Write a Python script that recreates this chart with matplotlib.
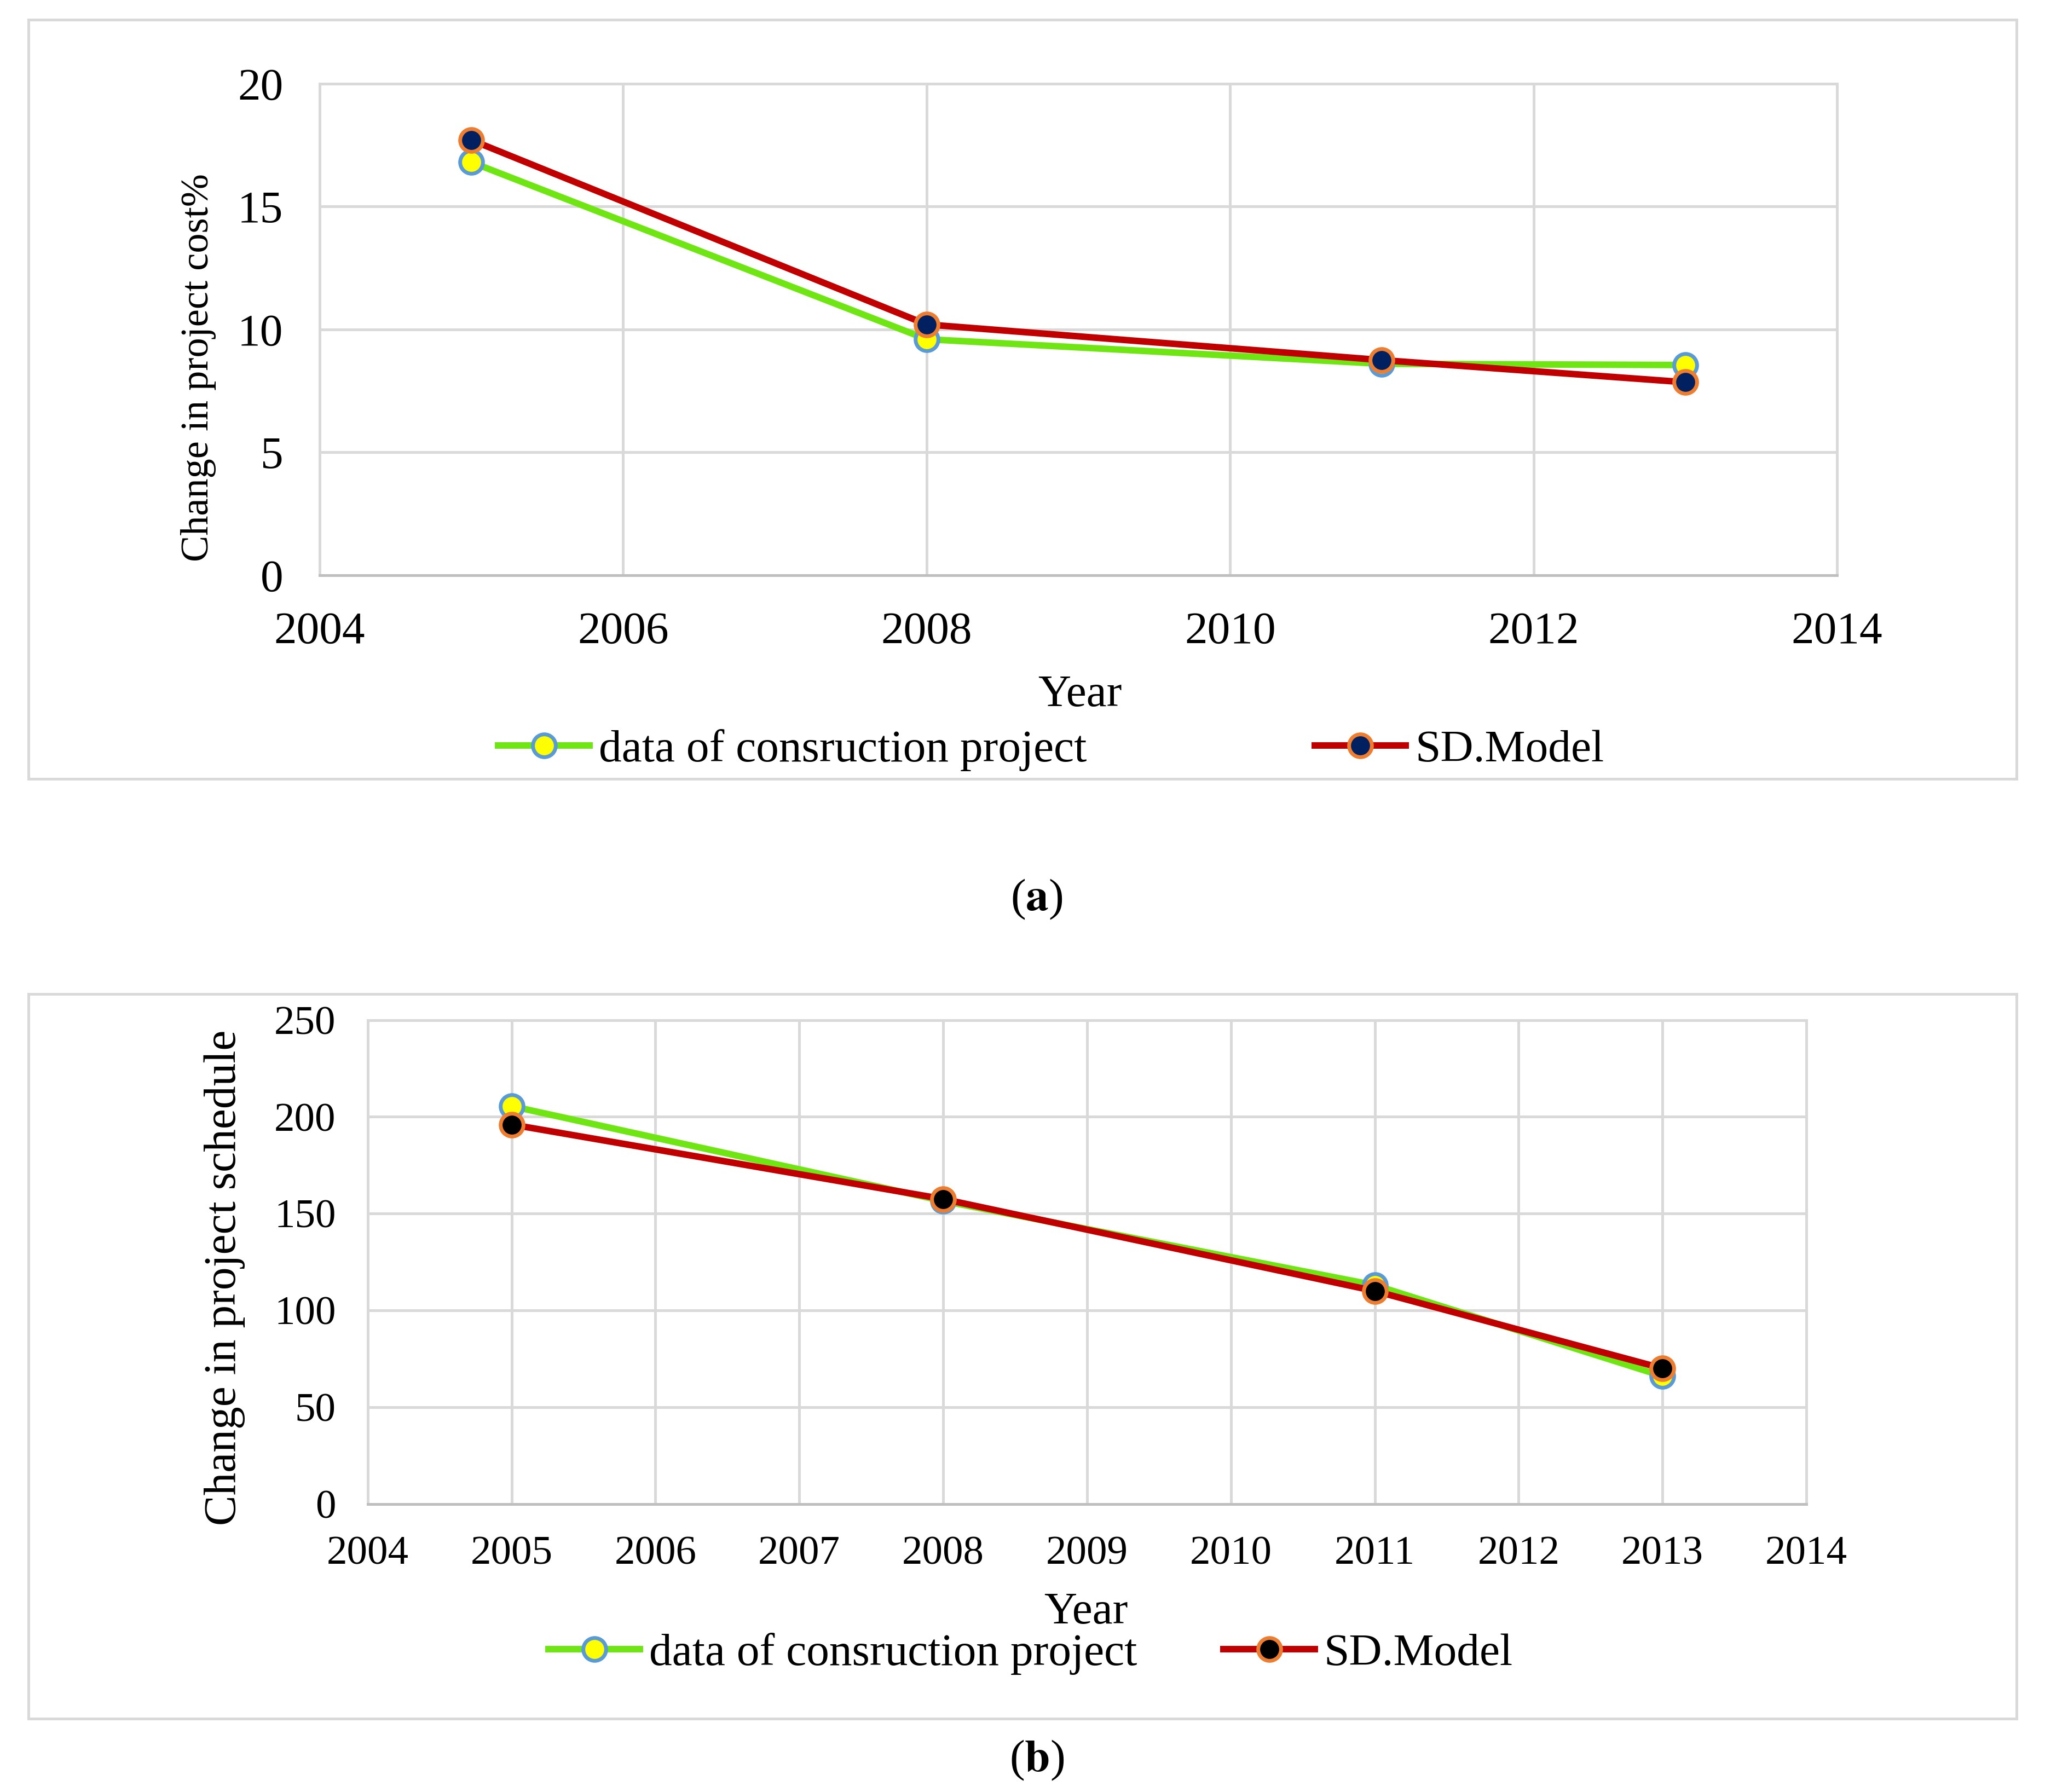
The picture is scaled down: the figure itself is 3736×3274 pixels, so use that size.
import matplotlib
matplotlib.use("Agg")
import matplotlib.pyplot as plt
from matplotlib.lines import Line2D
from matplotlib.patches import Rectangle

plt.rcParams['font.family'] = ['Liberation Serif', 'DejaVu Serif']
plt.rcParams['mathtext.fontset'] = 'stix'

# donnees (a) : cout
annees_a = [2005, 2008, 2011, 2013]
cout_projet = [16.8, 9.6, 8.6, 8.55]
cout_modele = [17.7, 10.2, 8.75, 7.85]

# donnees (b) : delai
annees_b = [2005, 2008, 2011, 2013]
delai_projet = [205.5, 156.5, 113, 66]
delai_modele = [196, 157.5, 110, 70]

ticks_a = [2004, 2006, 2008, 2010, 2012, 2014]
ticks_b = list(range(2004, 2015))
yticks_a = [0, 5, 10, 15, 20]
yticks_b = [0, 50, 100, 150, 200, 250]

nom_projet = "data of consruction project"
nom_modele = "SD.Model"

VERT = "#6FE614"
ROUGE = "#C00000"
GRILLE = "#D9D9D9"

fig = plt.figure(figsize=(18.68, 16.37), dpi=200)


def style_axe(ax, xt, yt, taille, pad):
    ax.set_xticks(xt)
    ax.set_yticks(yt)
    ax.set_xlim(xt[0], xt[-1])
    ax.set_ylim(yt[0], yt[-1])
    ax.grid(True, color=GRILLE, lw=1.8, zorder=0)
    for s in ax.spines.values():
        s.set_color(GRILLE)
        s.set_linewidth(1.8)
    ax.spines['bottom'].set_color("#BFBFBF")
    ax.tick_params(length=0, labelsize=taille, pad=pad)


def tracer(ax, x, y1, y2, face2):
    ax.plot(x, y1, color=VERT, lw=4.3, marker="o", ms=15, mfc="#FFFF00",
            mec="#5B9BD5", mew=2.5, zorder=3)
    ax.plot(x, y2, color=ROUGE, lw=4.3, marker="o", ms=15, mfc=face2,
            mec="#ED7D31", mew=2.5, zorder=4)


def poignees(face2):
    h1 = Line2D([], [], color=VERT, lw=4.3, marker="o", ms=15, mfc="#FFFF00",
                mec="#5B9BD5", mew=2.5)
    h2 = Line2D([], [], color=ROUGE, lw=4.3, marker="o", ms=15, mfc=face2,
                mec="#ED7D31", mew=2.5)
    return [h1, h2]


# cadres
fig.patches.append(Rectangle((0.014, 0.5655), 0.972, 0.4235, transform=fig.transFigure,
                             fill=False, ec=GRILLE, lw=1.8))
fig.patches.append(Rectangle((0.014, 0.0408), 0.972, 0.4046, transform=fig.transFigure,
                             fill=False, ec=GRILLE, lw=1.8))

# graphique (a)
ax1 = fig.add_axes([0.1563, 0.679, 0.742, 0.2744])
tracer(ax1, annees_a, cout_projet, cout_modele, "#002060")
style_axe(ax1, ticks_a, yticks_a, 30, 24)
fig.text(0.097, 0.795, "Change in project cost%", rotation=90, ha="center", va="center", fontsize=26)
fig.text(0.528, 0.612, "Year", ha="center", va="center", fontsize=30)
fig.legend(poignees("#002060"), [nom_projet, nom_modele], loc="center",
           bbox_to_anchor=(0.514, 0.5815), ncol=2, frameon=False, fontsize=30,
           handlelength=2.0, handletextpad=0.2, columnspacing=5.0)
fig.text(0.507, 0.498, r"($\mathbf{a}$)", ha="center", va="center", fontsize=30)

# graphique (b)
ax2 = fig.add_axes([0.1798, 0.1608, 0.7035, 0.27])
tracer(ax2, annees_b, delai_projet, delai_modele, "black")
style_axe(ax2, ticks_b, yticks_b, 27, 21)
fig.text(0.1097, 0.287, "Change in project schedule", rotation=90, ha="center", va="center", fontsize=30)
fig.text(0.531, 0.1, "Year", ha="center", va="center", fontsize=30)
fig.legend(poignees("black"), [nom_projet, nom_modele], loc="center",
           bbox_to_anchor=(0.504, 0.077), ncol=2, frameon=False, fontsize=30,
           handlelength=2.0, handletextpad=0.2, columnspacing=1.9)
fig.text(0.507, 0.0175, r"($\mathbf{b}$)", ha="center", va="center", fontsize=30)

fig.savefig("out.png", dpi=200, facecolor="white")
